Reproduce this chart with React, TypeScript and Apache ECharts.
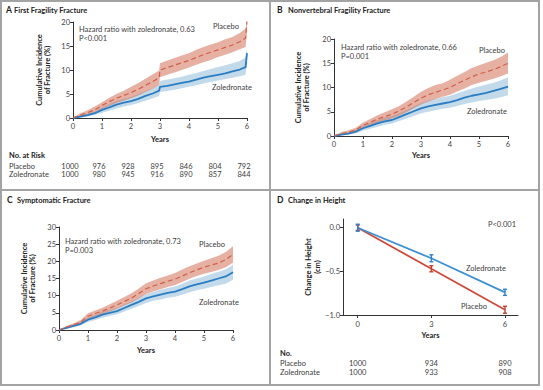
import React, { useEffect, useRef } from "react";
import * as echarts from "echarts";

// ---------- Panel A: First Fragility Fracture ----------
const timesA = [0, 0.25, 0.5, 0.75, 1, 1.25, 1.5, 1.75, 2, 2.25, 2.5, 2.75, 2.97, 3.0, 3.25, 3.5, 3.75, 4, 4.25, 4.5, 4.75, 5, 5.25, 5.5, 5.75, 5.95, 6.0];
const placeboA = [0, 0.6, 1.1, 1.7, 2.6, 3.4, 4.1, 4.7, 5.3, 6.0, 6.8, 7.6, 8.4, 10.0, 10.5, 11.0, 11.5, 12.0, 12.6, 13.2, 13.7, 14.2, 14.7, 15.2, 15.9, 16.6, 20.2];
const placeboALow = [0, 0.3, 0.7, 1.2, 1.9, 2.5, 3.1, 3.6, 4.1, 4.7, 5.4, 6.1, 6.9, 8.5, 9.0, 9.5, 10.0, 10.5, 11.1, 11.6, 12.1, 12.7, 13.2, 13.7, 14.3, 14.8, 17.8];
const placeboAHigh = [0, 1.0, 1.6, 2.4, 3.3, 4.2, 5.0, 5.7, 6.5, 7.3, 8.2, 9.1, 9.9, 11.4, 12.0, 12.5, 13.0, 13.5, 14.2, 14.8, 15.3, 15.8, 16.4, 16.9, 17.7, 18.6, 20.2];
const zolA = [0, 0.3, 0.6, 1.0, 1.7, 2.2, 2.8, 3.2, 3.5, 4.0, 4.6, 5.1, 5.7, 6.5, 6.7, 7.0, 7.3, 7.6, 8.0, 8.4, 8.7, 9.0, 9.3, 9.7, 10.1, 10.6, 13.5];
const zolALow = [0, 0.1, 0.3, 0.6, 1.1, 1.5, 2.0, 2.4, 2.7, 3.1, 3.6, 4.1, 4.6, 5.4, 5.6, 5.9, 6.2, 6.5, 6.8, 7.2, 7.5, 7.8, 8.1, 8.4, 8.7, 9.0, 11.0];
const zolAHigh = [0, 0.5, 0.9, 1.4, 2.2, 2.9, 3.6, 4.0, 4.4, 5.0, 5.6, 6.2, 6.9, 7.7, 8.0, 8.3, 8.6, 9.0, 9.4, 9.8, 10.2, 10.6, 11.0, 11.4, 11.9, 12.6, 14.5];
const riskYearsA = [0, 1, 2, 3, 4, 5, 6];
const riskPlaceboA = ["1000", "976", "928", "895", "846", "804", "792"];
const riskZolA = ["1000", "980", "945", "916", "890", "857", "844"];

// ---------- Panel B: Nonvertebral Fragility Fracture ----------
const timesBC = [0, 0.25, 0.5, 0.75, 1, 1.25, 1.5, 1.75, 2, 2.25, 2.5, 2.75, 3, 3.25, 3.5, 3.75, 4, 4.25, 4.5, 4.75, 5, 5.25, 5.5, 5.75, 6];
const placeboB = [0, 0.5, 0.8, 1.2, 2.2, 2.8, 3.5, 4.0, 4.5, 5.2, 6.0, 6.9, 7.8, 8.5, 9.0, 9.5, 10.0, 10.8, 11.5, 12.2, 12.8, 13.2, 13.7, 14.3, 15.0];
const placeboBLow = [0, 0.2, 0.5, 0.8, 1.6, 2.1, 2.7, 3.2, 3.6, 4.2, 4.9, 5.7, 6.5, 7.1, 7.6, 8.1, 8.5, 9.2, 9.8, 10.5, 11.0, 11.4, 11.8, 12.3, 12.9];
const placeboBHigh = [0, 0.8, 1.2, 1.7, 2.8, 3.5, 4.3, 4.9, 5.5, 6.2, 7.1, 8.1, 9.1, 9.9, 10.5, 10.9, 11.6, 12.4, 13.2, 14.0, 14.6, 15.1, 15.6, 16.3, 17.2];
const zolB = [0, 0.3, 0.5, 0.9, 1.6, 2.1, 2.6, 3.0, 3.3, 3.9, 4.5, 5.1, 5.7, 6.1, 6.4, 6.7, 7.0, 7.4, 7.9, 8.3, 8.6, 8.9, 9.3, 9.7, 10.2];
const zolBLow = [0, 0.1, 0.3, 0.5, 1.1, 1.5, 1.9, 2.3, 2.6, 3.1, 3.6, 4.1, 4.7, 5.0, 5.3, 5.6, 5.8, 6.2, 6.6, 6.9, 7.2, 7.4, 7.7, 8.0, 8.4];
const zolBHigh = [0, 0.5, 0.8, 1.3, 2.1, 2.7, 3.3, 3.8, 4.1, 4.7, 5.4, 6.1, 6.8, 7.3, 7.6, 8.0, 8.3, 8.8, 9.3, 9.8, 10.2, 10.6, 11.0, 11.5, 12.1];

// ---------- Panel C: Symptomatic Fracture ----------
const placeboC = [0, 0.8, 1.5, 2.2, 4.0, 4.8, 5.5, 6.4, 7.3, 8.3, 9.3, 10.6, 12.0, 12.8, 13.5, 14.2, 14.8, 15.7, 16.7, 17.5, 18.3, 18.9, 19.5, 20.5, 22.0];
const placeboCLow = [0, 0.4, 1.0, 1.6, 3.2, 3.9, 4.6, 5.4, 6.2, 7.1, 8.0, 9.2, 10.5, 11.2, 11.9, 12.5, 13.1, 14.0, 14.9, 15.7, 16.4, 16.9, 17.5, 18.3, 19.6];
const placeboCHigh = [0, 1.2, 2.0, 2.9, 4.9, 5.7, 6.5, 7.5, 8.5, 9.6, 10.7, 12.1, 13.6, 14.4, 15.2, 15.9, 16.6, 17.6, 18.6, 19.4, 20.2, 20.9, 21.6, 22.7, 24.4];
const zolC = [0, 0.6, 1.2, 1.8, 3.0, 3.7, 4.5, 5.0, 5.5, 6.4, 7.3, 8.2, 9.2, 9.8, 10.3, 10.8, 11.2, 11.9, 12.7, 13.3, 13.8, 14.4, 15.0, 15.6, 16.8];
const zolCLow = [0, 0.3, 0.8, 1.3, 2.3, 2.9, 3.6, 4.1, 4.6, 5.4, 6.2, 7.0, 7.9, 8.5, 8.9, 9.4, 9.7, 10.3, 11.0, 11.6, 12.0, 12.5, 13.0, 13.5, 14.6];
const zolCHigh = [0, 0.9, 1.6, 2.4, 3.6, 4.4, 5.3, 5.9, 6.4, 7.4, 8.4, 9.4, 10.5, 11.1, 11.7, 12.2, 12.7, 13.5, 14.4, 15.0, 15.6, 16.3, 17.0, 17.7, 19.0];

// ---------- Panel D: Change in Height ----------
const yearsD = [0, 3, 6];
const ticksDY = [-1, -0.5, 0];
const zolD = [0, -0.35, -0.74];
const zolDErr = [0.04, 0.04, 0.035];
const placeboD = [0, -0.47, -0.94];
const placeboDErr = [0.03, 0.035, 0.04];
const nPlaceboD = ["1000", "934", "890"];
const nZolD = ["1000", "933", "908"];

const FONT = "Lato, 'Noto Sans', sans-serif";
const PLACEBO_LINE = "#cf5f4a";
const ZOL_LINE = "#2a7dc2";
const PLACEBO_BAND = "rgba(208,105,78,0.52)";
const ZOL_BAND = "rgba(112,168,206,0.42)";
const AXIS = "#333";
const TEXT = "#3c3c3c";

function pairs(t: number[], v: number[]) {
  return t.map((x, i) => [x, v[i]]);
}

function bandSeries(idx: number, t: number[], low: number[], high: number[], color: string) {
  return {
    type: "custom",
    xAxisIndex: idx,
    yAxisIndex: idx,
    silent: true,
    clip: false,
    z: 1,
    data: [[t[0], low[0]]],
    encode: { x: 0, y: 1 },
    renderItem: (params: any, api: any) => {
      const pts: number[][] = [];
      for (let i = 0; i < t.length; i++) pts.push(api.coord([t[i], low[i]]));
      for (let i = t.length - 1; i >= 0; i--) pts.push(api.coord([t[i], high[i]]));
      return { type: "polygon", shape: { points: pts }, style: { fill: color } };
    },
  };
}

function lineSeries(idx: number, t: number[], v: number[], color: string, dashed: boolean, width: number) {
  return {
    type: "line",
    xAxisIndex: idx,
    yAxisIndex: idx,
    data: pairs(t, v),
    showSymbol: false,
    symbol: "none",
    silent: true,
    z: 3,
    lineStyle: { color, width, type: dashed ? [5, 3] : "solid" },
  };
}

function errSeries(idx: number, t: number[], v: number[], e: number[], color: string, z: number) {
  return {
    type: "custom",
    xAxisIndex: idx,
    yAxisIndex: idx,
    silent: true,
    clip: false,
    z,
    data: t.map((x, i) => [x, v[i] - e[i], v[i] + e[i]]),
    encode: { x: 0, y: [1, 2] },
    renderItem: (params: any, api: any) => {
      const lo = api.coord([api.value(0), api.value(1)]);
      const hi = api.coord([api.value(0), api.value(2)]);
      const s = { stroke: color, lineWidth: 1.4 };
      return {
        type: "group",
        children: [
          { type: "line", shape: { x1: lo[0], y1: lo[1], x2: hi[0], y2: hi[1] }, style: s },
          { type: "line", shape: { x1: lo[0] - 2, y1: lo[1], x2: lo[0] + 2, y2: lo[1] }, style: s },
          { type: "line", shape: { x1: hi[0] - 2, y1: hi[1], x2: hi[0] + 2, y2: hi[1] }, style: s },
        ],
      };
    },
  };
}

const axisCommon = {
  axisLine: { onZero: false, lineStyle: { color: AXIS, width: 1 } },
  axisTick: { length: 3, lineStyle: { color: AXIS, width: 1 } },
  axisLabel: { fontSize: 7.5, color: "#444", fontFamily: FONT, margin: 3 },
  splitLine: { show: false },
  nameTextStyle: { fontSize: 7.5, fontWeight: "bold", color: "#222", fontFamily: FONT, lineHeight: 8.5 },
};

function xAxisKM(idx: number, gap: number) {
  return {
    ...axisCommon,
    gridIndex: idx,
    type: "value",
    min: 0,
    max: 6,
    interval: 1,
    name: "Years",
    nameLocation: "middle",
    nameGap: gap,
    axisLabel: { ...axisCommon.axisLabel, margin: 4 },
  };
}

function yAxisKM(idx: number, max: number, interval: number, gap: number) {
  return {
    ...axisCommon,
    gridIndex: idx,
    type: "value",
    min: 0,
    max,
    interval,
    name: "Cumulative Incidence\nof Fracture (%)",
    nameLocation: "middle",
    nameRotate: 90,
    nameGap: gap,
  };
}

function txt(x: number, y: number, text: string, opts: any = {}) {
  return {
    type: "text",
    x,
    y,
    silent: true,
    z: 10,
    style: {
      text,
      fontSize: opts.size ?? 7.5,
      fontWeight: opts.bold ? "bold" : "normal",
      fontFamily: FONT,
      fill: opts.color ?? TEXT,
      textAlign: opts.align ?? "left",
      textVerticalAlign: "middle",
    },
  };
}

export default function App() {
  const ref = useRef<HTMLDivElement>(null);

  useEffect(() => {
    document.body.style.margin = "0";
    if (!ref.current) return;
    const chart = echarts.init(ref.current, null, { renderer: "svg" });

    chart.setOption({
      animation: false,
      backgroundColor: "#fff",
      textStyle: { fontFamily: FONT },
      grid: [
        { left: 73, top: 22, width: 174, height: 96 },
        { left: 334, top: 39, width: 174, height: 97 },
        { left: 59, top: 227, width: 174, height: 103 },
        { left: 343, top: 219, width: 175, height: 96 },
      ],
      xAxis: [
        xAxisKM(0, 17),
        xAxisKM(1, 15),
        xAxisKM(2, 16),
        {
          ...axisCommon,
          gridIndex: 3,
          type: "value",
          min: -0.6,
          max: 6.53,
          name: "Years",
          nameLocation: "middle",
          nameGap: 16,
          axisTick: { ...axisCommon.axisTick, customValues: yearsD },
          axisLabel: { ...axisCommon.axisLabel, margin: 5, customValues: yearsD },
        },
      ],
      yAxis: [
        yAxisKM(0, 20, 5, 21),
        yAxisKM(1, 20, 5, 23),
        yAxisKM(2, 30, 5, 22),
        {
          ...axisCommon,
          gridIndex: 3,
          type: "value",
          min: -1,
          max: 0.1,
          name: "Change in Height\n(cm)",
          nameLocation: "middle",
          nameRotate: 90,
          nameGap: 21,
          axisTick: { ...axisCommon.axisTick, customValues: ticksDY },
          axisLabel: {
            ...axisCommon.axisLabel,
            customValues: ticksDY,
            showMaxLabel: true,
            formatter: (v: number) => (Math.abs(v) < 1e-9 ? "0.0" : "\u2212" + Math.abs(v).toFixed(1)),
          },
        },
      ],
      series: [
        bandSeries(0, timesA, zolALow, zolAHigh, ZOL_BAND),
        bandSeries(0, timesA, placeboALow, placeboAHigh, PLACEBO_BAND),
        lineSeries(0, timesA, zolA, ZOL_LINE, false, 1.8),
        lineSeries(0, timesA, placeboA, PLACEBO_LINE, true, 1.2),

        bandSeries(1, timesBC, zolBLow, zolBHigh, ZOL_BAND),
        bandSeries(1, timesBC, placeboBLow, placeboBHigh, PLACEBO_BAND),
        lineSeries(1, timesBC, zolB, ZOL_LINE, false, 1.8),
        lineSeries(1, timesBC, placeboB, PLACEBO_LINE, true, 1.2),

        bandSeries(2, timesBC, zolCLow, zolCHigh, ZOL_BAND),
        bandSeries(2, timesBC, placeboCLow, placeboCHigh, PLACEBO_BAND),
        lineSeries(2, timesBC, zolC, ZOL_LINE, false, 1.8),
        lineSeries(2, timesBC, placeboC, PLACEBO_LINE, true, 1.2),

        lineSeries(3, yearsD, placeboD, "#cc4a3a", false, 1.8),
        lineSeries(3, yearsD, zolD, "#3d8fd2", false, 1.8),
        errSeries(3, yearsD, placeboD, placeboDErr, "#c2402f", 4),
        errSeries(3, yearsD, zolD, zolDErr, "#2f82c8", 5),
      ],
    });

    const px = (axis: number, v: number) => chart.convertToPixel({ xAxisIndex: axis }, v) as number;

    const graphics: any[] = [
      // frame
      { type: "rect", silent: true, shape: { x: 1, y: 1, width: 538, height: 384 }, style: { fill: "none", stroke: "#a3a3a3", lineWidth: 2 } },
      { type: "line", silent: true, shape: { x1: 270, y1: 1, x2: 270, y2: 385 }, style: { stroke: "#a3a3a3", lineWidth: 2 } },
      { type: "line", silent: true, shape: { x1: 1, y1: 190, x2: 539, y2: 190 }, style: { stroke: "#a3a3a3", lineWidth: 2 } },
      // titles
      txt(6, 10, "A", { bold: true, size: 8.5, color: "#222" }),
      txt(14, 10, "First Fragility Fracture", { bold: true, size: 7.5, color: "#222" }),
      txt(277, 10, "B", { bold: true, size: 8.5, color: "#222" }),
      txt(288, 10, "Nonvertebral Fragility Fracture", { bold: true, size: 7.5, color: "#222" }),
      txt(7, 200, "C", { bold: true, size: 8.5, color: "#222" }),
      txt(17, 200, "Symptomatic Fracture", { bold: true, size: 7.5, color: "#222" }),
      txt(277, 200, "D", { bold: true, size: 8.5, color: "#222" }),
      txt(288, 200, "Change in Height", { bold: true, size: 7.5, color: "#222" }),
      // annotations A
      txt(79, 29.5, "Hazard ratio with zoledronate, 0.63"),
      txt(79, 38.5, "P<0.001"),
      txt(213, 26, "Placebo"),
      txt(212, 87, "Zoledronate"),
      // annotations B
      txt(341, 47, "Hazard ratio with zoledronate, 0.66"),
      txt(341, 56, "P=0.001"),
      txt(479, 50, "Placebo"),
      txt(467, 111, "Zoledronate"),
      // annotations C
      txt(65, 241, "Hazard ratio with zoledronate, 0.73"),
      txt(65, 250.5, "P=0.003"),
      txt(199, 244, "Placebo"),
      txt(199, 302, "Zoledronate"),
      // annotations D
      txt(488, 224, "P<0.001"),
      txt(466, 268, "Zoledronate"),
      txt(461, 306, "Placebo"),
      // table A
      txt(9, 155, "No. at Risk", { bold: true, color: "#222" }),
      txt(9, 166, "Placebo"),
      txt(9, 174, "Zoledronate"),
      // table D
      txt(280, 353, "No.", { bold: true, color: "#222" }),
      txt(280, 363, "Placebo"),
      txt(280, 372, "Zoledronate"),
    ];

    riskYearsA.forEach((y, i) => {
      const x = px(0, y);
      graphics.push(txt(x - 3, 166, riskPlaceboA[i], { align: "center" }));
      graphics.push(txt(x - 3, 174, riskZolA[i], { align: "center" }));
    });
    yearsD.forEach((y, i) => {
      const x = px(3, y);
      graphics.push(txt(x, 363, nPlaceboD[i], { align: "center" }));
      graphics.push(txt(x, 372, nZolD[i], { align: "center" }));
    });

    chart.setOption({ graphic: graphics });

    return () => chart.dispose();
  }, []);

  return <div ref={ref} style={{ width: 543, height: 390 }} />;
}
